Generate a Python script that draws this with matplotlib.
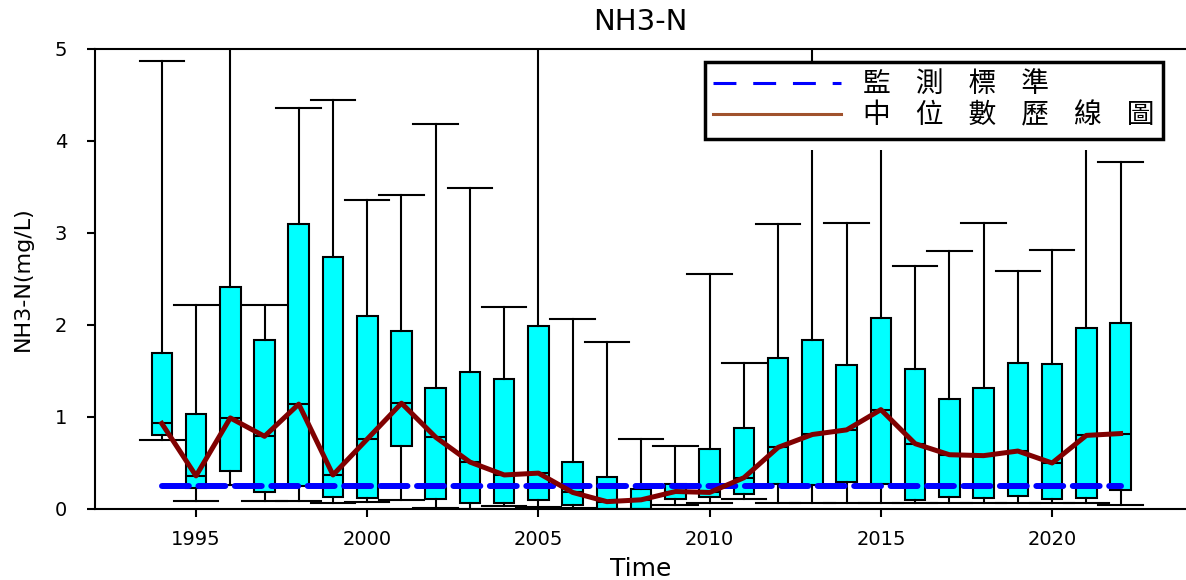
import numpy as np
import matplotlib
matplotlib.use("Agg")
import matplotlib.pyplot as plt
from matplotlib.lines import Line2D
from matplotlib.patches import Rectangle

# --- data (mg/L) ---
years = list(range(1994, 2023))
whis_hi = [4.87, 2.22, 5.60, 2.22, 4.36, 4.45, 3.36, 3.41, 4.19, 3.49,
           2.20, 5.60, 2.07, 1.81, 0.76, 0.69, 2.55, 1.59, 3.10, 5.50,
           3.11, 4.50, 2.64, 2.80, 3.11, 2.59, 2.82, 4.50, 3.77]
q3 = [1.70, 1.03, 2.41, 1.84, 3.10, 2.74, 2.10, 1.93, 1.32, 1.49,
      1.41, 1.99, 0.51, 0.35, 0.22, 0.27, 0.65, 0.88, 1.64, 1.84,
      1.57, 2.08, 1.52, 1.20, 1.32, 1.59, 1.58, 1.97, 2.02]
medians = [0.93, 0.36, 0.99, 0.79, 1.14, 0.37, 0.76, 1.15, 0.78, 0.51,
           0.37, 0.39, 0.18, 0.08, 0.10, 0.19, 0.18, 0.34, 0.67, 0.81,
           0.86, 1.08, 0.71, 0.59, 0.58, 0.63, 0.50, 0.80, 0.82]
q1 = [0.80, 0.23, 0.41, 0.18, 0.25, 0.13, 0.12, 0.69, 0.11, 0.07,
      0.07, 0.10, 0.04, 0.00, 0.00, 0.11, 0.13, 0.16, 0.27, 0.26,
      0.29, 0.27, 0.10, 0.13, 0.12, 0.14, 0.11, 0.12, 0.21]
whis_lo = [0.75, 0.09, 0.26, 0.09, 0.09, 0.06, 0.08, 0.10, 0.01, 0.00,
           0.03, 0.02, 0.01, 0.00, 0.00, 0.04, 0.07, 0.11, 0.07, 0.06,
           0.06, 0.06, 0.06, 0.06, 0.06, 0.06, 0.06, 0.06, 0.04]
standard = 0.25
legend_labels = ['監測標準', '中位數歷線圖']

plt.rcParams['font.family'] = ['DejaVu Sans']

fig = plt.figure(figsize=(11.86, 5.80), dpi=100)
ax = fig.add_axes([95 / 1186, 1 - 509 / 580, 1 - 95 / 1186, 460 / 580])

stats = []
for i in range(len(years)):
    stats.append({'med': medians[i], 'q1': q1[i], 'q3': q3[i],
                  'whislo': whis_lo[i], 'whishi': whis_hi[i], 'fliers': []})

ax.bxp(stats, positions=years, widths=0.6, capwidths=1.3,
       showfliers=False, patch_artist=True,
       boxprops=dict(facecolor='#00FFFF', edgecolor='black', linewidth=1.5),
       medianprops=dict(color='black', linewidth=1.5),
       whiskerprops=dict(color='black', linewidth=1.5),
       capprops=dict(color='black', linewidth=1.5))

# monitoring standard
ax.plot([years[0], years[-1]], [standard, standard], color='#0000FF',
        linewidth=4.3, dashes=(4.5, 1.6), dash_capstyle='round', zorder=3)
# median line
ax.plot(years, medians, color='#800000', linewidth=3.6, zorder=4)

ax.set_xlim(1992.05, 2023.91)
ax.set_ylim(0, 5)
ax.set_xticks([1995, 2000, 2005, 2010, 2015, 2020])
ax.set_xticklabels(['1995', '2000', '2005', '2010', '2015', '2020'])
ax.set_yticks([0, 1, 2, 3, 4, 5])
ax.tick_params(axis='both', direction='out', length=6, width=1.5,
               labelsize=14)
ax.tick_params(axis='x', pad=9)
ax.tick_params(axis='y', pad=14)
ax.spines['right'].set_visible(False)
for s in ['left', 'top', 'bottom']:
    ax.spines[s].set_linewidth(1.5)

ax.set_title('NH3-N', fontsize=21, pad=14)
ax.set_xlabel('Time', fontsize=18, labelpad=6)
ax.set_ylabel('NH3-N(mg/L)', fontsize=16, labelpad=16)

# white margin under the legend
ax.add_patch(Rectangle((0.545, 0.78), 0.44, 0.1, transform=ax.transAxes,
                       facecolor='white', edgecolor='none', zorder=5))

handles = [Line2D([], [], color='#0000FF', linewidth=2.2, dashes=(7.5, 5.5)),
           Line2D([], [], color='#A0522D', linewidth=2.2)]
labels = ['    '.join(t) for t in legend_labels]
leg = ax.legend(handles, labels, loc='upper right',
                bbox_to_anchor=(0.979, 0.972), borderaxespad=0,
                fancybox=False, framealpha=1, edgecolor='black',
                prop={'family': ['Noto Sans CJK TC', 'DejaVu Sans'], 'size': 20},
                handlelength=4.6, handletextpad=0.8, borderpad=0.3,
                labelspacing=0.02)
leg.get_frame().set_linewidth(2.5)
leg.set_zorder(6)

fig.savefig('out.png', dpi=100)
